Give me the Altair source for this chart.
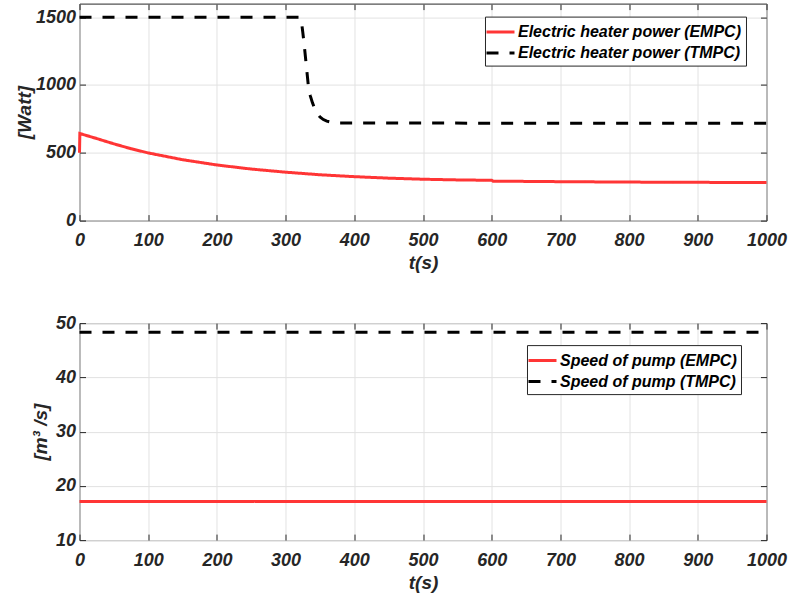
import altair as alt
import pandas as pd

# ---------------- data ----------------
t_empc = [0, 0.5, 25, 50, 75, 100, 150, 200, 250, 300, 350, 400, 450, 500, 550, 600, 602, 700, 800, 900, 1000]
p_empc = [500, 642, 605, 566, 530, 499, 449, 410, 380, 357, 338, 324, 313, 305, 300, 297, 291, 287, 284, 282, 281]
t_tmpc = [0, 321, 323, 325, 327, 329, 331, 333, 336, 339, 342, 346, 350, 355, 360, 368, 378, 1000]
p_tmpc = [1500, 1500, 1470, 1390, 1300, 1200, 1100, 1000, 920, 870, 830, 790, 765, 745, 733, 723, 719, 718]

t_pump = [0, 1000]
pump_empc = [17.1, 17.1]
pump_tmpc = [48.3, 48.3]

top_labels = ["Electric heater power (EMPC)", "Electric heater power (TMPC)"]
bot_labels = ["Speed of pump (EMPC)", "Speed of pump (TMPC)"]
x_ticks = [0, 100, 200, 300, 400, 500, 600, 700, 800, 900, 1000]
top_yticks = [0, 500, 1000, 1500]
bot_yticks = [10, 20, 30, 40, 50]

FONT = "Liberation Sans"
DARK = "#262626"


def make_df(t1, v1, t2, v2, labels):
    rows = [{"t": a, "v": b, "series": labels[0]} for a, b in zip(t1, v1)]
    rows += [{"t": a, "v": b, "series": labels[1]} for a, b in zip(t2, v2)]
    return pd.DataFrame(rows)


def panel(df, labels, ydomain, yticks, ytitle, lx, ly, ytitle_pad):
    xs = alt.Scale(domain=[0, 1000], nice=False, zero=False)
    ys = alt.Scale(domain=ydomain, nice=False, zero=False)
    base = alt.Chart(df)
    leg = alt.Legend(
        title=None, orient="none", legendX=lx, legendY=ly, direction="vertical",
        symbolType="M-1.4,0L1.4,0", symbolSize=400, symbolStrokeWidth=3,
        labelFont=FONT, labelFontSize=16, labelFontWeight="bold", labelFontStyle="italic",
        labelColor="#000000", labelOffset=6, labelLimit=400,
        strokeColor=DARK, fillColor="white", padding=4, rowPadding=1,
    )
    main = base.mark_line(strokeWidth=3).encode(
        x=alt.X("t:Q", scale=xs, axis=alt.Axis(
            orient="bottom", values=x_ticks, format="d", title="t(s)", grid=True, ticks=False,
            domain=False, labelPadding=11, titlePadding=4, labelFlush=False)),
        y=alt.Y("v:Q", scale=ys, axis=alt.Axis(
            orient="left", values=yticks, format="d", title=ytitle, grid=True, ticks=False,
            domain=False, labelPadding=4, titlePadding=ytitle_pad, labelFlush=False)),
        color=alt.Color("series:N", scale=alt.Scale(domain=labels, range=["#ff3535", "#000000"]), legend=leg),
        strokeDash=alt.StrokeDash("series:N", scale=alt.Scale(domain=labels, range=[[1, 0], [12, 11]]), legend=leg),
    )
    tick_tr = base.mark_line(strokeOpacity=0).encode(
        x=alt.X("t:Q", scale=xs, axis=alt.Axis(
            orient="top", values=x_ticks, labels=False, title=None, grid=False, domain=False,
            ticks=True, tickSize=6, offset=-6, tickColor=DARK, tickWidth=1)),
        y=alt.Y("v:Q", scale=ys, axis=alt.Axis(
            orient="right", values=yticks, labels=False, title=None, grid=False, domain=False,
            ticks=True, tickSize=6, offset=-6, tickColor=DARK, tickWidth=1)),
        detail="series:N",
    )
    tick_bl = base.mark_line(strokeOpacity=0).encode(
        x=alt.X("t:Q", scale=xs, axis=alt.Axis(
            orient="bottom", values=x_ticks, labels=False, title=None, grid=False, domain=False,
            ticks=True, tickSize=6, offset=-6, tickColor=DARK, tickWidth=1)),
        y=alt.Y("v:Q", scale=ys, axis=alt.Axis(
            orient="left", values=yticks, labels=False, title=None, grid=False, domain=False,
            ticks=True, tickSize=6, offset=-6, tickColor=DARK, tickWidth=1)),
        detail="series:N",
    )
    return alt.layer(main, tick_tr, tick_bl).resolve_axis(x="independent", y="independent").properties(
        width=687, height=217)


top_df = make_df(t_empc, p_empc, t_tmpc, p_tmpc, top_labels)
bot_df = make_df(t_pump, pump_empc, t_pump, pump_tmpc, bot_labels)

top = panel(top_df, top_labels, [0, 1600], top_yticks, "[Watt]", 405.5, 13, 0.5)
bot = panel(bot_df, bot_labels, [10, 50], bot_yticks, "[m³ /s]", 447.5, 22, 4.5)

chart = alt.vconcat(top, bot, spacing=39.5).resolve_scale(color="independent", strokeDash="independent").properties(
    padding={"left": 14.5, "top": 2.6, "right": 0, "bottom": 0},
    background="white",
).configure_view(stroke=DARK, strokeWidth=1).configure_axis(
    labelFont=FONT, labelFontSize=18, labelFontWeight="bold", labelFontStyle="italic",
    labelColor=DARK, titleFont=FONT, titleFontSize=19, titleFontWeight="bold",
    titleFontStyle="italic", titleColor=DARK, gridColor="#e2e2e2", gridWidth=1,
)

chart.save("out.html", embed_options={"renderer": "svg", "actions": False})
